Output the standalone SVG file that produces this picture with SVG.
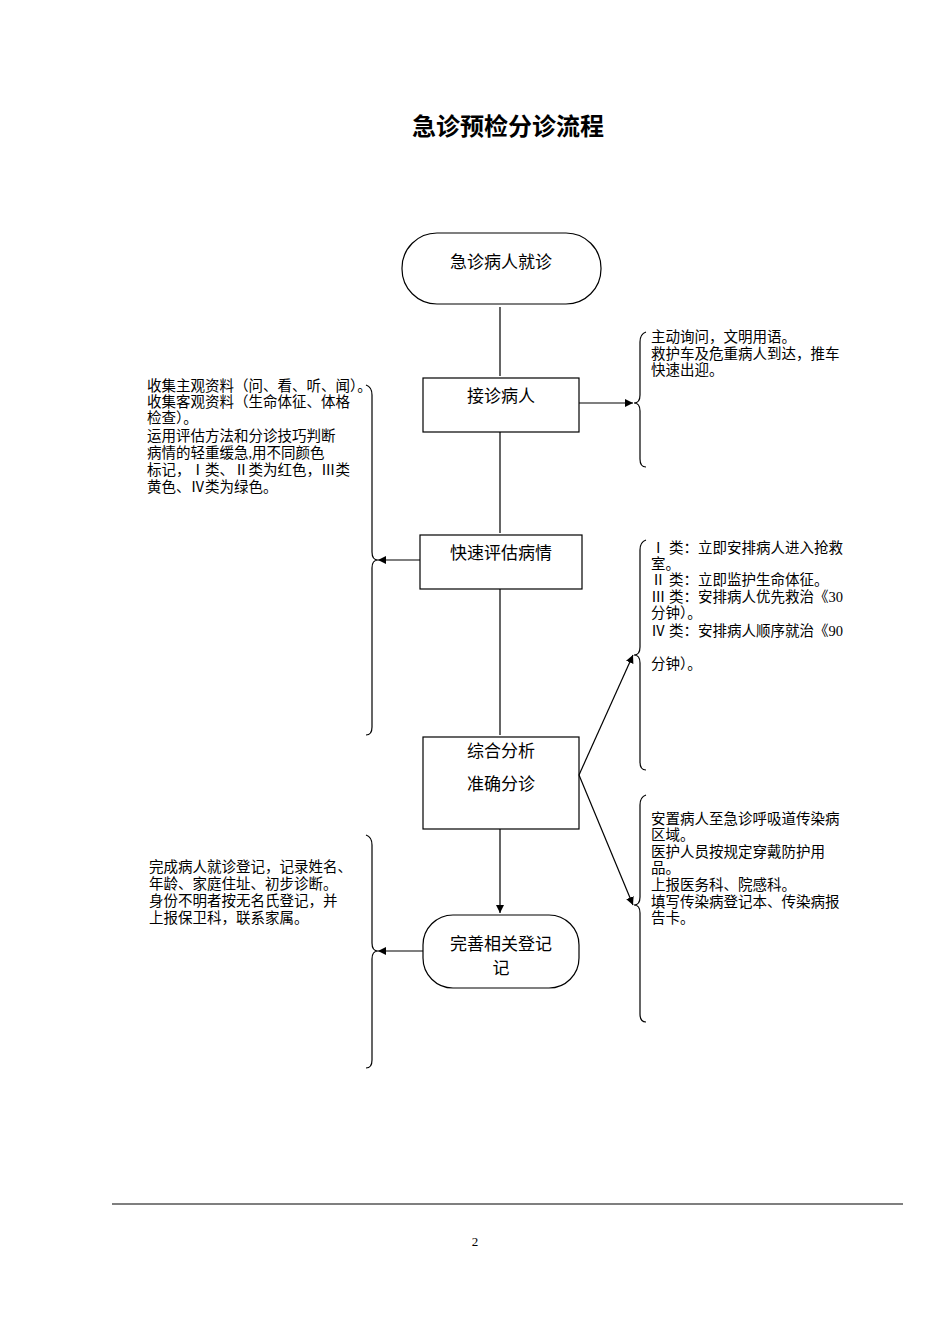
<svg xmlns="http://www.w3.org/2000/svg" width="950" height="1344" viewBox="0 0 950 1344">
<style>
text{font-family:"Liberation Serif","Noto Sans CJK SC",serif;fill:#000}
.n{fill:#fff;stroke:#000;stroke-width:1.2}
.l{stroke:#000;stroke-width:1.2;fill:none}
.t{font-size:17px;text-anchor:middle}
.s{font-size:14.5px}
</style>
<defs><marker id="a" viewBox="0 0 10 10" refX="10" refY="5" markerWidth="8" markerHeight="8" orient="auto" markerUnits="userSpaceOnUse"><path d="M0,0L10,5L0,10z" fill="#000"/></marker></defs>
<rect width="950" height="1344" fill="#fff"/>
<text x="508" y="135" font-size="24" font-weight="bold" text-anchor="middle">急诊预检分诊流程</text>
<g id="n1"><rect class="n" x="402" y="233" width="199" height="71" rx="35"/><text class="t" x="501" y="268">急诊病人就诊</text></g>
<g id="n2"><rect class="n" x="423" y="378" width="156" height="54"/><text class="t" x="501" y="402">接诊病人</text></g>
<g id="n3"><rect class="n" x="420" y="535" width="162" height="54"/><text class="t" x="501" y="559">快速评估病情</text></g>
<g id="n4"><rect class="n" x="423" y="737" width="156" height="92"/><text class="t" x="501" y="757">综合分析</text><text class="t" x="501" y="790">准确分诊</text></g>
<g id="n5"><rect class="n" x="423" y="915" width="156" height="73" rx="30"/><text class="t" x="501" y="950">完善相关登记</text><text class="t" x="501" y="974">记</text></g>
<g id="notes" class="s">
<text x="147" y="391">收集主观资料（问、看、听、闻）。</text>
<text x="147" y="407">收集客观资料（生命体征、体格</text>
<text x="147" y="423">检查）。</text>
<text x="147" y="441">运用评估方法和分诊技巧判断</text>
<text x="147" y="458">病情的轻重缓急,用不同颜色</text>
<text x="147" y="475">标记，Ⅰ类、Ⅱ类为红色，Ⅲ类</text>
<text x="147" y="492">黄色、Ⅳ类为绿色。</text>
<text x="651" y="342">主动询问，文明用语。</text>
<text x="651" y="359">救护车及危重病人到达，推车</text>
<text x="651" y="375">快速出迎。</text>
<text x="651" y="553">Ⅰ 类：立即安排病人进入抢救</text>
<text x="651" y="569">室。</text>
<text x="651" y="585">Ⅱ 类：立即监护生命体征。</text>
<text x="651" y="602">Ⅲ 类：安排病人优先救治《30</text>
<text x="651" y="618">分钟）。</text>
<text x="651" y="636">Ⅳ 类：安排病人顺序就治《90</text>
<text x="651" y="669">分钟）。</text>
<text x="651" y="824">安置病人至急诊呼吸道传染病</text>
<text x="651" y="840">区域。</text>
<text x="651" y="857">医护人员按规定穿戴防护用</text>
<text x="651" y="873">品。</text>
<text x="651" y="890">上报医务科、院感科。</text>
<text x="651" y="907">填写传染病登记本、传染病报</text>
<text x="651" y="923">告卡。</text>
<text x="149" y="872">完成病人就诊登记，记录姓名、</text>
<text x="149" y="889">年龄、家庭住址、初步诊断。</text>
<text x="149" y="906">身份不明者按无名氏登记，并</text>
<text x="149" y="923">上报保卫科，联系家属。</text>
</g>
<g id="connectors">
<path class="l" d="M500,307V376M500,432V533M500,589V735M500,829V913" marker-end="url(#a)"/>
<line class="l" x1="579" y1="403" x2="633" y2="403" marker-end="url(#a)"/>
<line class="l" x1="420" y1="560" x2="378" y2="560" marker-end="url(#a)"/>
<line class="l" x1="423" y1="951" x2="378" y2="951" marker-end="url(#a)"/>
<line class="l" x1="579" y1="775" x2="633" y2="655" marker-end="url(#a)"/>
<line class="l" x1="579" y1="775" x2="633" y2="905" marker-end="url(#a)"/>
<path class="l" d="M646,332Q640,334 640,342V395Q640,403 634,403Q640,403 640,411V459Q640,467 646,467"/>
<path class="l" d="M646,540Q640,542 640,550V647Q640,655 634,655Q640,655 640,663V762Q640,770 646,770"/>
<path class="l" d="M646,795Q640,797 640,805V897Q640,905 634,905Q640,905 640,913V1014Q640,1022 646,1022"/>
<path class="l" d="M366,385Q372,387 372,395V552Q372,560 378,560Q372,560 372,568V727Q372,735 366,735"/>
<path class="l" d="M366,835Q372,837 372,845V943Q372,951 378,951Q372,951 372,959V1060Q372,1068 366,1068"/>
</g>
<line class="l" x1="112" y1="1204" x2="903" y2="1204"/>
<text x="475" y="1246" font-size="13" text-anchor="middle">2</text>
</svg>
